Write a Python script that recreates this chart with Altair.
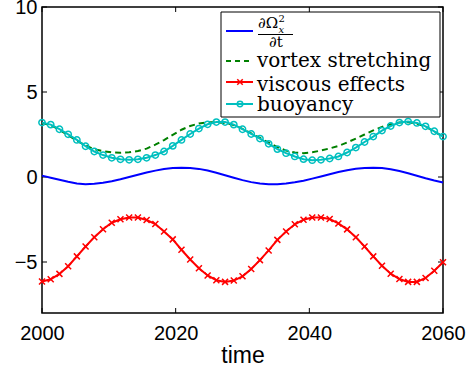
import altair as alt
import numpy as np
import pandas as pd

# sampling grid (47 samples, 2000..2060)
time = np.linspace(2000, 2060, 47).round(3).tolist()

d_omega = [0.08, -0.04, -0.16, -0.28, -0.38, -0.42, -0.40, -0.336, -0.244, -0.129,
           0.0, 0.134, 0.261, 0.375, 0.464, 0.524, 0.55, 0.535, 0.477, 0.379,
           0.251, 0.105, -0.045, -0.185, -0.302, -0.385, -0.427, -0.424, -0.385, -0.313,
           -0.215, -0.096, 0.034, 0.165, 0.289, 0.397, 0.48, 0.532, 0.55, 0.527,
           0.46, 0.355, 0.223, 0.075, -0.074, -0.21, -0.322]

vortex = [3.18, 3.05, 2.78, 2.46, 2.13, 1.85, 1.63, 1.52, 1.45, 1.43,
          1.45, 1.53, 1.67, 1.90, 2.17, 2.48, 2.78, 3.00, 3.15, 3.22,
          3.22, 3.18, 3.05, 2.83, 2.57, 2.30, 2.02, 1.76, 1.55, 1.44,
          1.40, 1.45, 1.56, 1.68, 1.83, 2.03, 2.26, 2.50, 2.74, 2.95,
          3.10, 3.20, 3.22, 3.15, 2.96, 2.68, 2.37]

viscous = [-6.15, -6.02, -5.70, -5.25, -4.67, -4.09, -3.54, -3.07, -2.69, -2.49,
           -2.38, -2.38, -2.53, -2.77, -3.21, -3.67, -4.28, -4.85, -5.37, -5.79,
           -6.07, -6.17, -6.09, -5.84, -5.41, -4.89, -4.32, -3.70, -3.21, -2.78,
           -2.51, -2.38, -2.38, -2.47, -2.73, -3.08, -3.54, -4.09, -4.67, -5.22,
           -5.69, -6.00, -6.17, -6.17, -5.94, -5.51, -5.02]

buoyancy = [3.20, 3.08, 2.81, 2.51, 2.18, 1.81, 1.50, 1.29, 1.13, 1.04,
            1.01, 1.04, 1.13, 1.29, 1.50, 1.83, 2.18, 2.53, 2.85, 3.10,
            3.23, 3.23, 3.08, 2.81, 2.53, 2.26, 1.95, 1.64, 1.40, 1.21,
            1.05, 0.99, 1.01, 1.09, 1.21, 1.44, 1.73, 2.06, 2.38, 2.73,
            3.00, 3.20, 3.26, 3.18, 2.98, 2.69, 2.38]

x_ticks = [2000, 2020, 2040, 2060]
y_ticks = [-5, 0, 5, 10]
labels = ["vortex stretching", "viscous effects", "buoyancy"]

df = pd.DataFrame({"time": time, "domega": d_omega, "vortex": vortex,
                   "viscous": viscous, "buoyancy": buoyancy})
xt = pd.DataFrame({"v": x_ticks})
yt = pd.DataFrame({"v": y_ticks})
one = pd.DataFrame({"k": [0]})

W, H = 401, 306
BLUE, GREEN, RED, CYAN = "#0000FF", "#008000", "#FF0000", "#00BFBF"
XSHAPE = "M-1,-1L1,1M-1,1L1,-1"

xs = alt.Scale(domain=[2000, 2060], nice=False, zero=False)
ys = alt.Scale(domain=[-8, 10], nice=False, zero=False)
xaxis = alt.Axis(values=x_ticks, title="time", format="d", labelPadding=10,
                 labelFlush=False, titleY=49, titleBaseline="alphabetic")
yaxis = alt.Axis(values=y_ticks, title="", labelPadding=5, labelFlush=False)

base = alt.Chart(df)
X = alt.X("time:Q", scale=xs, axis=xaxis)


def Y(f):
    return alt.Y(f + ":Q", scale=ys, axis=yaxis)


blue = base.mark_line(color=BLUE, strokeWidth=2).encode(x=X, y=Y("domega"))
green = base.mark_line(color=GREEN, strokeWidth=2, strokeDash=[6, 4]).encode(x=X, y=Y("vortex"))
red = base.mark_line(color=RED, strokeWidth=2).encode(x=X, y=Y("viscous"))
red_pts = base.mark_point(shape=XSHAPE, size=36, color=RED, strokeWidth=1.5,
                          filled=False, opacity=1).encode(x=X, y=Y("viscous"))
cyan = base.mark_line(color=CYAN, strokeWidth=2).encode(x=X, y=Y("buoyancy"))
cyan_pts = base.mark_point(shape="circle", size=40, color=CYAN, strokeWidth=1.5,
                           filled=False, opacity=1).encode(x=X, y=Y("buoyancy"))

# inward ticks on all four sides
tk = dict(color="black", strokeWidth=1)
XT = alt.X("v:Q", scale=xs, axis=xaxis)
YT = alt.Y("v:Q", scale=ys, axis=yaxis)
xb = alt.Chart(xt).mark_rule(**tk).encode(x=XT, y=alt.value(H), y2=alt.value(H - 5))
xtp = alt.Chart(xt).mark_rule(**tk).encode(x=XT, y=alt.value(0), y2=alt.value(5))
yl = alt.Chart(yt).mark_rule(**tk).encode(y=YT, x=alt.value(0), x2=alt.value(5))
yr = alt.Chart(yt).mark_rule(**tk).encode(y=YT, x=alt.value(W), x2=alt.value(W - 5))

# legend
lg = alt.Chart(one)
box = lg.mark_rect(fill="white", stroke="black", strokeWidth=1).encode(
    x=alt.value(179), x2=alt.value(398), y=alt.value(5), y2=alt.value(110))


def seg(color, y, dash=None):
    kw = dict(color=color, strokeWidth=2)
    if dash:
        kw["strokeDash"] = dash
    return lg.mark_rule(**kw).encode(x=alt.value(184), x2=alt.value(211), y=alt.value(y))


def txt(s, x, y, size=20, align="left", style="normal"):
    return lg.mark_text(font="DejaVu Serif", fontSize=size, align=align,
                        baseline="alphabetic", color="black", fontStyle=style).encode(
        x=alt.value(x), y=alt.value(y), text=alt.value(s))


leg_layers = [
    box,
    seg(BLUE, 24),
    txt("\u2202\u03a9", 216, 21, 15),
    txt("2", 236.5, 15, 10),
    txt("x", 236.5, 25.5, 10, style="italic"),
    lg.mark_rule(color="black", strokeWidth=1).encode(x=alt.value(216), x2=alt.value(251),
                                                      y=alt.value(27.5)),
    txt("\u2202t", 234, 39.5, 15, align="center"),
    seg(GREEN, 54, [5, 4]),
    txt(labels[0], 215, 60),
    seg(RED, 75),
    lg.mark_point(shape=XSHAPE, size=30, color=RED, strokeWidth=1.5, filled=False,
                  opacity=1).encode(x=alt.value(198), y=alt.value(75)),
    txt(labels[1], 215, 83.5),
    seg(CYAN, 97),
    lg.mark_point(shape="circle", size=30, color=CYAN, strokeWidth=1.5, filled=False,
                  opacity=1).encode(x=alt.value(198), y=alt.value(97)),
    txt(labels[2], 215, 104),
]

chart = alt.layer(
    xb, xtp, yl, yr, blue, green, red, red_pts, cyan, cyan_pts, *leg_layers
).properties(
    width=W, height=H,
    padding={"left": 42, "top": 7, "right": 27, "bottom": 60},
    autosize=alt.AutoSizeParams(type="none"),
).configure_view(
    stroke="black", strokeWidth=1.5
).configure_axis(
    domain=False, ticks=False, grid=False,
    labelFont="Liberation Sans", labelFontSize=20, labelColor="black",
    titleFont="Liberation Sans", titleFontSize=23, titleColor="black",
    titleFontWeight="normal",
)

chart.save("out.html", embed_options={"renderer": "svg", "actions": False})
